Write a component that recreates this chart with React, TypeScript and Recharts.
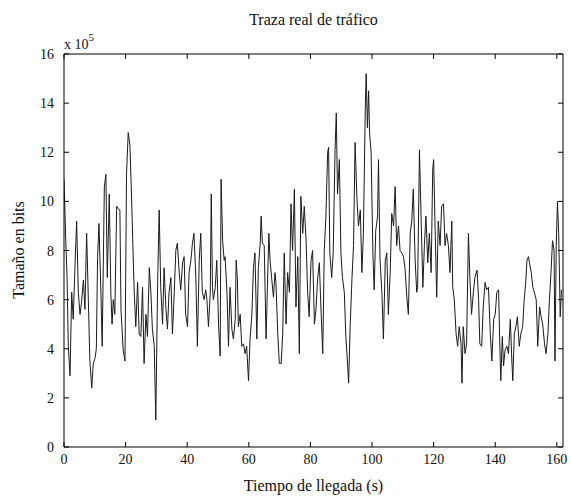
import { LineChart, Line, XAxis, YAxis, ReferenceLine } from 'recharts';

// arrival time (s)
const time = [
  0, 0.55, 1.0, 1.4, 1.95, 2.5, 3.0, 3.6, 4.1, 4.65,
  5.2, 5.7, 6.3, 6.8, 7.35, 7.9, 8.4, 9.0, 9.5, 10.05,
  10.5, 10.9, 11.35, 12.0, 12.4, 13.1, 13.6, 14.05, 14.7, 15.2,
  15.6, 16.0, 16.5, 17.1, 17.6, 18.15, 18.5, 19.2, 19.8, 20.3,
  20.85, 21.4, 21.9, 22.5, 22.8, 23.3, 23.9, 24.4, 24.95, 25.5,
  26.0, 26.6, 27.1, 27.7, 28.2, 28.7, 29.3, 29.8, 30.4, 30.9,
  31.4, 32.0, 32.5, 33.1, 33.6, 34.1, 34.7, 35.2, 35.8, 36.3,
  36.8, 37.4, 37.9, 38.5, 39.0, 39.5, 40.1, 40.6, 41.2, 41.7,
  42.2, 42.8, 43.3, 43.9, 44.4, 44.9, 45.5, 46.0, 46.4, 46.9,
  47.5, 47.8, 48.2, 48.5, 49.1, 49.6, 50.2, 50.7, 51.0, 51.5,
  52.0, 52.3, 52.9, 53.4, 53.9, 54.5, 55.0, 55.6, 55.9, 56.3,
  56.6, 57.2, 57.7, 58.3, 58.8, 59.3, 59.9, 60.4, 61.0, 61.5,
  62.0, 62.6, 63.1, 63.7, 64.0, 64.4, 65.0, 65.6, 66.0, 66.5,
  66.9, 67.4, 68.0, 68.5, 68.8, 69.4, 69.9, 70.5, 71.0, 71.5,
  72.1, 72.6, 73.2, 73.7, 74.2, 74.8, 75.3, 75.9, 76.4, 76.9,
  77.5, 78.0, 78.6, 79.1, 79.6, 80.2, 80.7, 81.3, 81.8, 82.3,
  82.9, 83.4, 84.0, 84.5, 85.0, 85.6, 85.9, 86.3, 86.9, 87.4,
  88.0, 88.4, 88.8, 89.4, 89.9, 90.4, 91.0, 91.5, 92.0, 92.4,
  92.9, 93.5, 94.0, 94.5, 95.1, 95.6, 96.2, 96.7, 97.2, 97.8,
  98.1, 98.5, 98.9, 99.2, 99.7, 100.3, 100.7, 101.2, 101.8, 102.1,
  102.6, 103.2, 103.7, 104.3, 104.8, 105.3, 105.9, 106.4, 107.0, 107.5,
  108.0, 108.6, 109.1, 109.7, 110.2, 110.7, 111.3, 111.8, 112.4, 112.9,
  113.4, 114.0, 114.5, 114.8, 115.4, 115.9, 116.5, 117.0, 117.5, 118.1,
  118.6, 119.2, 119.7, 120.0, 120.5, 121.0, 121.5, 122.1, 122.6, 123.2,
  123.7, 124.2, 124.8, 125.3, 125.9, 126.2, 126.7, 127.3, 127.8, 128.3,
  128.9, 129.2, 129.6, 130.2, 130.7, 131.3, 131.8, 132.3, 132.9, 133.4,
  134.1, 134.6, 135.0, 135.6, 136.1, 136.7, 137.2, 137.8, 138.4, 138.9,
  139.5, 140.0, 140.5, 141.1, 141.4, 141.8, 142.3, 142.7, 143.2, 143.8,
  144.3, 144.9, 145.4, 145.7, 146.2, 146.7, 147.2, 147.8, 148.3, 148.9,
  149.4, 149.9, 150.3, 150.8, 151.1, 151.7, 152.2, 152.7, 153.3, 153.8,
  154.4, 154.9, 155.4, 156.0, 156.5, 157.1, 157.6, 158.1, 158.6, 159.1,
  159.4, 159.8, 160.2, 160.6, 161.1, 161.5,
];

// packet size, in units of 10^5 bits
const bits = [
  10.9, 8.5, 6.9, 4.1, 2.9, 6.3, 5.2, 7.5, 9.2, 6.3,
  5.4, 5.9, 6.8, 5.6, 8.7, 6.0, 3.5, 2.4, 3.4, 3.6,
  4.0, 7.7, 9.1, 6.2, 4.1, 10.6, 11.1, 6.9, 10.3, 6.3,
  5.0, 6.0, 5.4, 9.8, 9.7, 9.65, 5.6, 3.95, 3.5, 11.1,
  12.8, 12.3, 10.3, 7.6, 6.3, 4.9, 6.7, 4.6, 4.5, 6.5,
  3.4, 5.4, 4.5, 7.3, 6.3, 4.8, 4.1, 1.1, 6.7, 9.65,
  6.5, 5.0, 7.3, 5.6, 4.8, 6.3, 6.9, 4.6, 6.3, 8.0,
  8.3, 7.1, 6.4, 7.5, 7.75, 5.4, 4.9, 7.1, 7.6, 8.3,
  8.7, 6.9, 4.1, 7.6, 8.7, 6.3, 6.0, 6.4, 6.0, 4.9,
  6.3, 10.3, 6.5, 6.0, 6.5, 7.6, 4.9, 3.7, 10.9, 8.4,
  7.6, 7.75, 6.3, 4.1, 6.5, 4.8, 4.4, 5.2, 7.6, 6.8,
  4.9, 5.4, 4.1, 4.2, 3.8, 4.1, 2.7, 4.4, 5.4, 7.3,
  7.9, 4.4, 7.3, 8.3, 9.4, 8.3, 8.2, 4.4, 6.3, 8.7,
  7.6, 6.9, 6.1, 7.1, 6.7, 4.6, 3.4, 3.4, 4.6, 7.9,
  5.0, 7.1, 6.3, 9.9, 8.0, 10.5, 5.7, 7.75, 3.8, 10.2,
  8.7, 9.8, 8.4, 6.3, 5.3, 7.6, 8.0, 5.0, 5.6, 6.8,
  7.5, 5.7, 3.8, 8.0, 9.3, 12.0, 12.2, 7.9, 6.9, 7.9,
  12.1, 13.6, 10.3, 11.7, 7.9, 6.9, 6.3, 4.5, 3.5, 2.6,
  4.9, 6.9, 8.2, 12.4, 10.1, 9.0, 9.65, 7.1, 8.7, 13.7,
  15.2, 13.0, 14.5, 12.8, 12.0, 7.8, 6.4, 8.8, 9.4, 11.7,
  7.6, 6.3, 4.4, 7.6, 7.9, 5.4, 7.1, 9.5, 9.0, 10.6,
  8.2, 9.0, 8.0, 7.9, 7.75, 7.3, 6.1, 5.4, 8.7, 9.2,
  10.5, 7.6, 6.3, 6.5, 12.1, 9.5, 6.5, 8.2, 9.4, 7.5,
  8.7, 7.1, 11.3, 11.7, 8.8, 6.1, 9.2, 8.2, 9.8, 9.9,
  8.2, 8.7, 8.2, 7.1, 9.2, 6.5, 6.0, 4.6, 4.1, 4.9,
  4.2, 2.6, 4.9, 3.8, 4.2, 8.7, 6.8, 5.4, 6.3, 6.9,
  7.2, 6.0, 4.2, 4.1, 5.7, 6.7, 6.4, 6.5, 4.6, 3.5,
  5.2, 5.4, 6.3, 6.4, 4.6, 2.7, 4.5, 3.3, 3.95, 4.1,
  3.8, 5.2, 3.5, 2.7, 4.6, 4.9, 5.3, 4.1, 4.6, 4.9,
  6.0, 6.7, 7.6, 7.75, 7.5, 7.1, 6.5, 6.3, 6.0, 4.1,
  5.7, 5.3, 5.0, 4.2, 3.8, 4.6, 6.0, 7.1, 8.4, 8.0,
  3.5, 8.2, 10.0, 8.7, 5.3, 6.4,
];

const xTicks = [0, 20, 40, 60, 80, 100, 120, 140, 160];
const yTicks = [0, 2, 4, 6, 8, 10, 12, 14, 16];
const X_MAX = 162;
const Y_MAX = 16;

const data = time.map((t, i) => ({ t, v: bits[i] }));

const serif = "'Liberation Serif', 'Times New Roman', serif";

const XTick = ({ x, y, payload }: any) => (
  <text x={x} y={y} dy={11} textAnchor="middle" fontFamily={serif} fontSize={14} fill="#111">
    {payload.value}
  </text>
);

const YTick = ({ x, y, payload }: any) => (
  <text x={x} y={y} dy={5} textAnchor="end" fontFamily={serif} fontSize={14} fill="#111">
    {payload.value}
  </text>
);

export default function App() {
  return (
    <div style={{ position: 'absolute', left: 0, top: 0, width: 571, height: 503, background: '#fff', fontFamily: serif, color: '#111' }}>
      <LineChart
        width={571}
        height={503}
        data={data}
        margin={{ top: 54, right: 8, left: 0, bottom: 0 }}
        style={{ fontFamily: serif }}
      >
        <XAxis
          dataKey="t"
          type="number"
          domain={[0, X_MAX]}
          ticks={xTicks}
          interval={0}
          height={56}
          tickSize={-5}
          tickMargin={11}
          stroke="#000"
          tick={<XTick />}
          allowDataOverflow
        />
        <YAxis
          type="number"
          domain={[0, Y_MAX]}
          ticks={yTicks}
          interval={0}
          width={64}
          tickSize={-5}
          tickMargin={15}
          stroke="#000"
          tick={<YTick />}
          allowDataOverflow
        />
        {/* MATLAB style box: top and right edges with inward ticks */}
        <ReferenceLine y={Y_MAX} stroke="#000" ifOverflow="visible" />
        <ReferenceLine x={X_MAX} stroke="#000" ifOverflow="visible" />
        {xTicks.map((t) => (
          <ReferenceLine
            key={'tt' + t}
            segment={[{ x: t, y: Y_MAX }, { x: t, y: Y_MAX - 0.2 }]}
            stroke="#000"
            ifOverflow="visible"
          />
        ))}
        {yTicks.map((v) => (
          <ReferenceLine
            key={'rt' + v}
            segment={[{ x: X_MAX, y: v }, { x: X_MAX - 1.6, y: v }]}
            stroke="#000"
            ifOverflow="visible"
          />
        ))}
        <Line
          type="linear"
          dataKey="v"
          stroke="#1a1a1a"
          strokeWidth={1}
          dot={false}
          isAnimationActive={false}
        />
      </LineChart>

      <div style={{ position: 'absolute', left: 64, width: 499, top: 11, textAlign: 'center', fontSize: 16 }}>
        Traza real de tráfico
      </div>
      <div style={{ position: 'absolute', left: 64, top: 33, fontSize: 14 }}>
        x 10<sup style={{ fontSize: 11, position: 'relative', top: -2 }}>5</sup>
      </div>
      <div style={{ position: 'absolute', left: 64, width: 499, top: 477, textAlign: 'center', fontSize: 16 }}>
        Tiempo de llegada (s)
      </div>
      <div
        style={{
          position: 'absolute',
          left: 19,
          top: 250,
          fontSize: 16,
          whiteSpace: 'nowrap',
          transform: 'translate(-50%, -50%) rotate(-90deg)',
        }}
      >
        Tamaño en bits
      </div>
    </div>
  );
}
